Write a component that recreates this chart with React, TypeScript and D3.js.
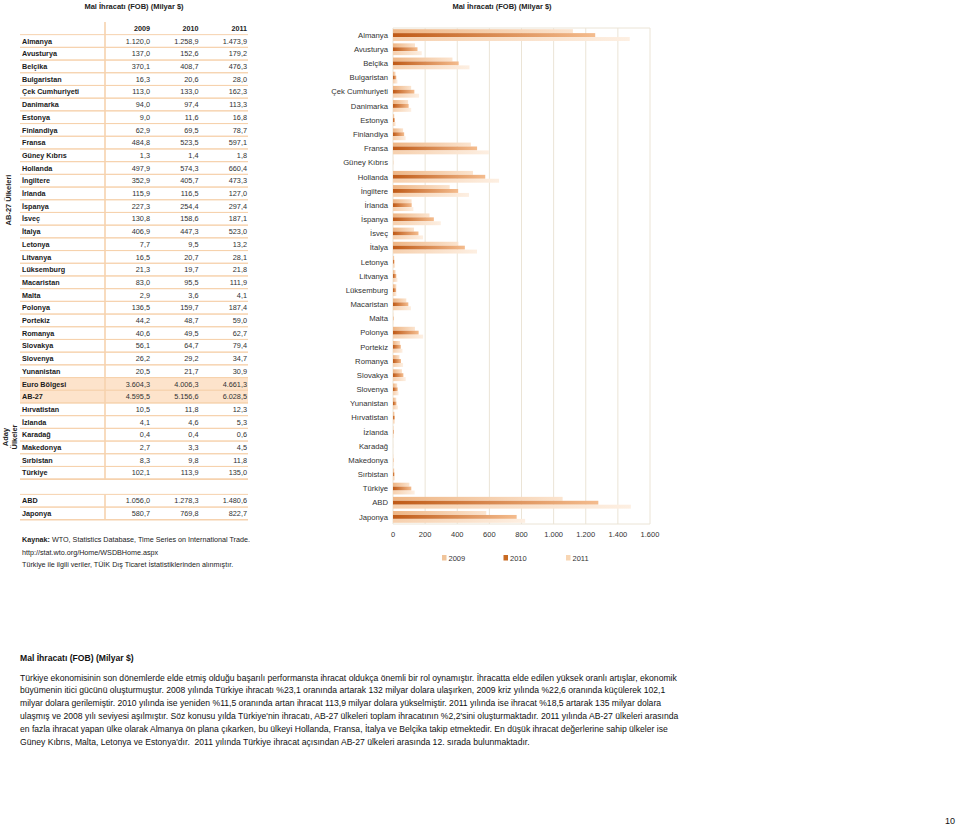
import React from "react";
import * as d3 from "d3";

const countries = [
  "Almanya","Avusturya","Belçika","Bulgaristan","Çek Cumhuriyeti","Danimarka","Estonya","Finlandiya","Fransa","Güney Kıbrıs","Hollanda","İngiltere","İrlanda","İspanya","İsveç","İtalya","Letonya","Litvanya","Lüksemburg","Macaristan","Malta","Polonya","Portekiz","Romanya","Slovakya","Slovenya","Yunanistan",
  "Hırvatistan","İzlanda","Karadağ","Makedonya","Sırbistan","Türkiye","ABD","Japonya",
];
const v2009 = [1120.0,137.0,370.1,16.3,113.0,94.0,9.0,62.9,484.8,1.3,497.9,352.9,115.9,227.3,130.8,406.9,7.7,16.5,21.3,83.0,2.9,136.5,44.2,40.6,56.1,26.2,20.5,10.5,4.1,0.4,2.7,8.3,102.1,1056.0,580.7];
const v2010 = [1258.9,152.6,408.7,20.6,133.0,97.4,11.6,69.5,523.5,1.4,574.3,405.7,116.5,254.4,158.6,447.3,9.5,20.7,19.7,95.5,3.6,159.7,48.7,49.5,64.7,29.2,21.7,11.8,4.6,0.4,3.3,9.8,113.9,1278.3,769.8];
const v2011 = [1473.9,179.2,476.3,28.0,162.3,113.3,16.8,78.7,597.1,1.8,660.4,473.3,127.0,297.4,187.1,523.0,13.2,28.1,21.8,111.9,4.1,187.4,59.0,62.7,79.4,34.7,30.9,12.3,5.3,0.6,4.5,11.8,135.0,1480.6,822.7];
const summaryNames = ["Euro Bölgesi", "AB-27"];
const summary2009 = [3604.3, 4595.5];
const summary2010 = [4006.3, 5156.6];
const summary2011 = [4661.3, 6028.5];
const years = ["2009", "2010", "2011"];
const xTicks = [0, 200, 400, 600, 800, 1000, 1200, 1400, 1600];

const title = "Mal İhracatı (FOB) (Milyar $)";
const paragraph = [
  "Türkiye ekonomisinin son dönemlerde elde etmiş olduğu başarılı performansta ihracat oldukça önemli bir rol oynamıştır. İhracatta elde edilen yüksek oranlı artışlar, ekonomik",
  "büyümenin itici gücünü oluşturmuştur. 2008 yılında Türkiye ihracatı %23,1 oranında artarak 132 milyar dolara ulaşırken, 2009 kriz yılında %22,6 oranında küçülerek 102,1",
  "milyar dolara gerilemiştir. 2010 yılında ise yeniden %11,5 oranında artan ihracat 113,9 milyar dolara yükselmiştir. 2011 yılında ise ihracat %18,5 artarak 135 milyar dolara",
  "ulaşmış ve 2008 yılı seviyesi aşılmıştır. Söz konusu yılda Türkiye'nin ihracatı, AB-27 ülkeleri toplam ihracatının %2,2'sini oluşturmaktadır. 2011 yılında AB-27 ülkeleri arasında",
  "en fazla ihracat yapan ülke olarak Almanya ön plana çıkarken, bu ülkeyi Hollanda, Fransa, İtalya ve Belçika takip etmektedir. En düşük ihracat değerlerine sahip ülkeler ise",
  "Güney Kıbrıs, Malta, Letonya ve Estonya'dır.  2011 yılında Türkiye ihracat açısından AB-27 ülkeleri arasında 12. sırada bulunmaktadır.",
];

const locale = d3.formatLocale({ decimal: ",", thousands: ".", grouping: [3], currency: ["", "$"] });
const fmt1 = locale.format(",.1f");
const fmt0 = locale.format(",.0f");

const FONT = "'Liberation Sans', Arial, sans-serif";
const LINE = "#f6d2ae";

export default function App() {
  // ---------- table ----------
  const eu = countries.slice(0, 27);
  const rest = countries.slice(27);
  type Row = { name: string; vals: number[]; idx: number; hl?: boolean };
  const rows: Row[] = [];
  eu.forEach((c, i) => rows.push({ name: c, vals: [v2009[i], v2010[i], v2011[i]], idx: i }));
  summaryNames.forEach((n, j) => rows.push({ name: n, vals: [summary2009[j], summary2010[j], summary2011[j]], idx: 27 + j, hl: true }));
  rest.forEach((c, k) => {
    const i = 27 + k;
    const idx = k < 6 ? 29 + k : 36.2 + (k - 6);
    rows.push({ name: c, vals: [v2009[i], v2010[i], v2011[i]], idx });
  });
  const rowY = d3.scaleLinear().domain([0, 1]).range([41, 41 + 12.7]);
  const half = 6.35;
  const colX = [150, 198.5, 247];

  // ---------- chart ----------
  const x = d3.scaleLinear().domain([0, 1600]).range([393, 650]);
  const y = d3.scaleBand().domain(countries).range([28, 524]).paddingInner(0);
  const sub = d3.scaleBand().domain(years).range([1.2, y.bandwidth() - 1.2]).padding(0);
  const series = [v2009, v2010, v2011];
  const grads = [
    ["#eeb584", "#fbe4cf"],
    ["#bf5a17", "#f4bc8e"],
    ["#f6d0ae", "#fdefe2"],
  ];
  const legendColors = ["#f0c49a", "#c86a22", "#f8d6b4"];
  const legendX = [442, 503.5, 566];

  return (
    <svg width={960} height={826} style={{ position: "absolute", left: 0, top: 0, background: "#fff" }} fontFamily={FONT}>
      <defs>
        {grads.map((g, i) => (
          <linearGradient key={i} id={`g${i}`} x1="0" x2="1" y1="0" y2="0">
            <stop offset="0" stopColor={g[0]} />
            <stop offset="1" stopColor={g[1]} />
          </linearGradient>
        ))}
      </defs>

      {/* titles */}
      <text x={134} y={8.5} fontSize={7.5} fontWeight="bold" textAnchor="middle" fill="#222">{title}</text>
      <text x={502} y={8.5} fontSize={7.5} fontWeight="bold" textAnchor="middle" fill="#222">{title}</text>

      {/* table */}
      <g>
        {rows.filter(r => r.hl).map(r => (
          <rect key={"bg" + r.name} x={20} y={rowY(r.idx) - half} width={228} height={half * 2} fill="#fde3cb" />
        ))}
        {years.map((yr, j) => (
          <text key={yr} x={colX[j]} y={rowY(-1) + 2.6} fontSize={7.2} fontWeight="bold" textAnchor="end" fill="#222">{yr}</text>
        ))}
        {rows.map(r => (
          <line key={"t" + r.name} x1={20} x2={248} y1={rowY(r.idx) - half} y2={rowY(r.idx) - half} stroke={LINE} strokeWidth={1} />
        ))}
        {rows.map(r => (
          <line key={"b" + r.name} x1={20} x2={248} y1={rowY(r.idx) + half} y2={rowY(r.idx) + half} stroke={LINE} strokeWidth={r.name === "Türkiye" || r.name === "Japonya" ? 1.6 : 1} />
        ))}
        <line x1={105} x2={105} y1={rowY(-1.5)} y2={rowY(34) + half} stroke={LINE} strokeWidth={1.6} />
        <line x1={105} x2={105} y1={rowY(36.2) - half} y2={rowY(37.2) + half} stroke={LINE} strokeWidth={1.6} />
        {rows.map(r => (
          <g key={"r" + r.name}>
            <text x={22} y={rowY(r.idx) + 2.6} fontSize={7.2} fontWeight="bold" fill="#1a1a1a">{r.name}</text>
            {r.vals.map((v, j) => (
              <text key={j} x={colX[j]} y={rowY(r.idx) + 2.6} fontSize={7.3} textAnchor="end" fill="#333">{fmt1(v)}</text>
            ))}
          </g>
        ))}
        <text transform={`translate(10.5,200) rotate(-90)`} fontSize={7.5} fontWeight="bold" textAnchor="middle" fill="#222">AB-27 Ülkeleri</text>
        <text transform={`translate(8,437) rotate(-90)`} fontSize={7.5} fontWeight="bold" textAnchor="middle" fill="#222">Aday</text>
        <text transform={`translate(16.5,437) rotate(-90)`} fontSize={7.5} fontWeight="bold" textAnchor="middle" fill="#222">Ülkeler</text>
      </g>

      {/* source */}
      <text x={22} y={542} fontSize={7.2} fill="#222"><tspan fontWeight="bold">Kaynak:</tspan> WTO, Statistics Database, Time Series on International Trade.</text>
      <text x={22} y={555} fontSize={7.2} fill="#222">http://stat.wto.org/Home/WSDBHome.aspx</text>
      <text x={22} y={567} fontSize={7.2} fill="#222">Türkiye ile ilgili veriler, TÜİK Dış Ticaret İstatistiklerinden alınmıştır.</text>

      {/* chart grid */}
      <g>
        {xTicks.map(t => (
          <line key={"gl" + t} x1={x(t)} x2={x(t)} y1={28} y2={524} stroke="#ebe4d6" strokeWidth={1} />
        ))}
        <line x1={393} x2={650} y1={28} y2={28} stroke="#ebe4d6" />
        <line x1={393} x2={650} y1={524} y2={524} stroke="#ebe4d6" />
        {countries.map((c, i) => (
          <g key={"bar" + c}>
            {series.map((s, k) => (
              <rect key={k} x={x(0)} y={(y(c) as number) + (sub(years[k]) as number)} width={Math.max(0, x(s[i]) - x(0))} height={sub.bandwidth()} fill={`url(#g${k})`} />
            ))}
            <text x={388} y={(y(c) as number) + y.bandwidth() / 2 + 2.7} fontSize={7.7} textAnchor="end" fill="#333">{c}</text>
          </g>
        ))}
        {xTicks.map(t => (
          <text key={"tl" + t} x={x(t)} y={537} fontSize={7.5} textAnchor="middle" fill="#333">{fmt0(t)}</text>
        ))}
        {years.map((yr, k) => (
          <g key={"lg" + yr}>
            <rect x={legendX[k]} y={555} width={4.5} height={5.5} fill={legendColors[k]} />
            <text x={legendX[k] + 6.5} y={560.5} fontSize={7.5} fill="#333">{yr}</text>
          </g>
        ))}
      </g>

      {/* bottom text */}
      <text x={20} y={660.5} fontSize={8.6} fontWeight="bold" fill="#111">{title}</text>
      {paragraph.map((l, i) => (
        <text key={i} x={20} y={680.5 + i * 12.8} fontSize={8.6} fill="#111" style={{ whiteSpace: "pre" }}>{l}</text>
      ))}
      <text x={950} y={824} fontSize={9} textAnchor="middle" fill="#111">10</text>
    </svg>
  );
}
